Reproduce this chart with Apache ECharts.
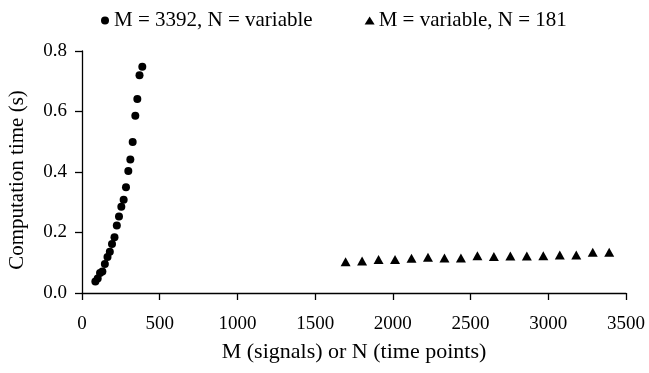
<!DOCTYPE html>
<html>
<head>
<meta charset="utf-8">
<script src="https://cdn.jsdelivr.net/npm/echarts@6/dist/echarts.min.js"></script>
<style>
  html, body { margin: 0; padding: 0; background: #fff; }
  #chart { width: 649px; height: 373px; }
</style>
</head>
<body>
<div id="chart"></div>
<script>
// M = 3392, N varies (circles)
const nValues = [86, 101, 116, 131, 147, 164, 179, 193, 209, 224, 238, 253, 268, 283, 298, 311, 326, 343, 356, 370, 388];
const nTimes = [0.038, 0.048, 0.066, 0.071, 0.096, 0.119, 0.136, 0.162, 0.184, 0.223, 0.253, 0.285, 0.308, 0.350, 0.403, 0.441, 0.499, 0.586, 0.641, 0.720, 0.748];

// N = 181, M varies (triangles)
const mValues = [1696, 1802, 1908, 2014, 2120, 2226, 2332, 2438, 2544, 2650, 2756, 2862, 2968, 3074, 3180, 3286, 3392];
const mTimes = [0.103, 0.106, 0.111, 0.111, 0.115, 0.118, 0.116, 0.116, 0.123, 0.121, 0.122, 0.122, 0.123, 0.126, 0.126, 0.135, 0.135];

const seriesNames = ['M = 3392, N = variable', 'M = variable, N = 181'];
const xAxisTitle = 'M (signals) or N (time points)';
const yAxisTitle = 'Computation time (s)';

const FONT = '"Liberation Serif", "DejaVu Serif", serif';

const chart = echarts.init(document.getElementById('chart'), null, { renderer: 'canvas' });

const axisCommon = {
  axisLine: { show: true, lineStyle: { color: '#000', width: 1.3 } },
  axisTick: { show: true, inside: false, length: 7, lineStyle: { color: '#000', width: 1.3 } },
  splitLine: { show: false },
  axisLabel: { color: '#000', fontFamily: FONT, fontSize: 19 }
};

chart.setOption({
  animation: false,
  backgroundColor: '#fff',
  grid: { left: 82, right: 23, top: 51, bottom: 80, outerBoundsMode: 'none' },
  legend: {
    top: 5,
    left: 96,
    itemGap: 52,
    itemWidth: 10,
    itemHeight: 8,
    textStyle: { color: '#000', fontFamily: FONT, fontSize: 21, padding: [0, 0, 0, -1] },
    data: [
      { name: seriesNames[0], icon: 'circle', itemStyle: { opacity: 1 } },
      { name: seriesNames[1], icon: 'triangle', itemStyle: { opacity: 1 } }
    ]
  },
  xAxis: Object.assign({}, axisCommon, {
    type: 'value',
    min: 0,
    max: 3500,
    interval: 500,
    name: xAxisTitle,
    nameLocation: 'middle',
    nameGap: 48,
    nameTextStyle: { color: '#000', fontFamily: FONT, fontSize: 22 },
    axisLabel: Object.assign({}, axisCommon.axisLabel, {
      margin: 22,
      formatter: (v) => String(v)
    })
  }),
  yAxis: Object.assign({}, axisCommon, {
    type: 'value',
    min: 0,
    max: 0.8,
    interval: 0.2,
    name: yAxisTitle,
    nameLocation: 'middle',
    nameGap: 54,
    nameTextStyle: { color: '#000', fontFamily: FONT, fontSize: 21, padding: [0, 16, 0, 0] },
    axisLabel: Object.assign({}, axisCommon.axisLabel, {
      margin: 15,
      formatter: (v) => v.toFixed(1)
    })
  }),
  series: [
    {
      name: seriesNames[0],
      type: 'scatter',
      symbol: 'circle',
      symbolSize: 8,
      itemStyle: { color: '#000', opacity: 1 },
      data: nValues.map((n, i) => [n, nTimes[i]])
    },
    {
      name: seriesNames[1],
      type: 'scatter',
      symbol: 'triangle',
      symbolSize: [10, 9],
      itemStyle: { color: '#000', opacity: 1 },
      data: mValues.map((m, i) => [m, mTimes[i]])
    }
  ]
});
</script>
</body>
</html>
